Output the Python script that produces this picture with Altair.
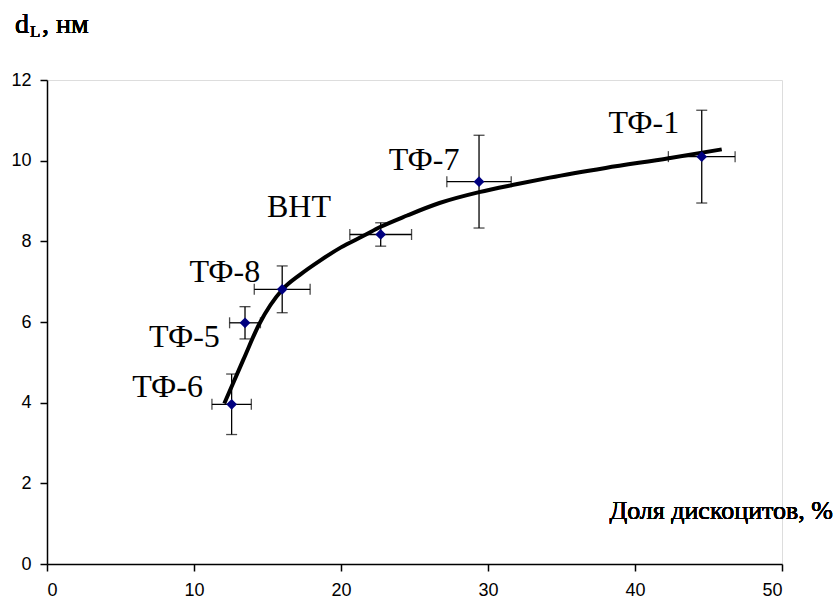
import altair as alt
import pandas as pd

# Data points
names = ["ТФ-6", "ТФ-5", "ТФ-8", "ВНТ", "ТФ-7", "ТФ-1"]
x_vals = [12.56, 13.47, 16.0, 22.7, 29.39, 44.54]
y_vals = [3.96, 5.98, 6.81, 8.17, 9.48, 10.10]
x_err = [1.34, 1.05, 1.90, 2.10, 2.19, 2.27]
y_err = [0.75, 0.40, 0.58, 0.29, 1.15, 1.15]

# Label anchor positions (data units)
label_x = [8.2, 9.35, 12.1, 17.14, 25.65, 40.6]
label_y = [4.15, 5.39, 7.0, 8.6, 9.77, 10.68]

# Trend curve
curve_x = [12.06, 13.35, 14.44, 16.0, 17.2, 18.6, 20.0, 21.5, 22.7, 24.5, 26.7, 29.4, 32.0, 34.2, 38.0, 42.3, 45.9]
curve_y = [3.98, 5.06, 5.95, 6.80, 7.17, 7.53, 7.85, 8.13, 8.36, 8.64, 8.95, 9.22, 9.42, 9.58, 9.82, 10.06, 10.28]

pts = pd.DataFrame({"name": names, "x": x_vals, "y": y_vals, "xe": x_err, "ye": y_err})
pts["xlo"] = pts["x"] - pts["xe"]
pts["xhi"] = pts["x"] + pts["xe"]
pts["ylo"] = pts["y"] - pts["ye"]
pts["yhi"] = pts["y"] + pts["ye"]
labels = pd.DataFrame({"name": names, "lx": label_x, "ly": label_y})
curve = pd.DataFrame({"cx": curve_x, "cy": curve_y})

SERIF = "Liberation Serif"
SANS = "Liberation Sans"

xscale = alt.Scale(domain=[0, 50], nice=False)
yscale = alt.Scale(domain=[0, 12], nice=False)

xaxis = alt.Axis(values=[0, 10, 20, 30, 40, 50], title=None, grid=False, domainColor="black",
                 tickColor="black", tickSize=7, labelFont=SANS, labelFontSize=18,
                 labelColor="black", labelPadding=10, domainWidth=1.5, tickWidth=1.5)
yaxis = alt.Axis(values=[0, 2, 4, 6, 8, 10, 12], title=None, grid=False, domainColor="black",
                 tickColor="black", tickSize=7, labelFont=SANS, labelFontSize=18,
                 labelColor="black", labelPadding=9, domainWidth=1.5, tickWidth=1.5)

base = alt.Chart(pts)

axes = base.mark_point(opacity=0).encode(
    x=alt.X("x:Q", scale=xscale, axis=xaxis),
    y=alt.Y("y:Q", scale=yscale, axis=yaxis),
)

line = alt.Chart(curve).mark_line(color="black", strokeWidth=4, interpolate="monotone").encode(
    x=alt.X("cx:Q", scale=xscale), y=alt.Y("cy:Q", scale=yscale))

vbar = base.mark_rule(color="black", strokeWidth=1.3).encode(
    x=alt.X("x:Q", scale=xscale), y=alt.Y("ylo:Q", scale=yscale), y2="yhi:Q")
hbar = base.mark_rule(color="black", strokeWidth=1.3).encode(
    y=alt.Y("y:Q", scale=yscale), x=alt.X("xlo:Q", scale=xscale), x2="xhi:Q")
vcap_lo = base.mark_tick(color="black", orient="horizontal", size=11, thickness=1.3).encode(
    x=alt.X("x:Q", scale=xscale), y=alt.Y("ylo:Q", scale=yscale))
vcap_hi = base.mark_tick(color="black", orient="horizontal", size=11, thickness=1.3).encode(
    x=alt.X("x:Q", scale=xscale), y=alt.Y("yhi:Q", scale=yscale))
hcap_lo = base.mark_tick(color="black", orient="vertical", size=11, thickness=1.3).encode(
    x=alt.X("xlo:Q", scale=xscale), y=alt.Y("y:Q", scale=yscale))
hcap_hi = base.mark_tick(color="black", orient="vertical", size=11, thickness=1.3).encode(
    x=alt.X("xhi:Q", scale=xscale), y=alt.Y("y:Q", scale=yscale))

markers = base.mark_point(shape="diamond", filled=True, color="#000080", size=115, opacity=1).encode(
    x=alt.X("x:Q", scale=xscale), y=alt.Y("y:Q", scale=yscale))

lbl = alt.Chart(labels).mark_text(font=SERIF, fontSize=32, fontWeight="normal", color="black",
                                  align="center", baseline="alphabetic").encode(
    x=alt.X("lx:Q", scale=xscale), y=alt.Y("ly:Q", scale=yscale), text="name:N")

t_d = base.mark_text(text="d", font=SERIF, fontSize=28, fontWeight="normal", color="black",
                     align="left", baseline="alphabetic").encode(x=alt.value(-32), y=alt.value(-47))
t_L = base.mark_text(text="L", font=SERIF, fontSize=17, fontWeight="normal", color="black",
                     align="left", baseline="alphabetic").encode(x=alt.value(-17), y=alt.value(-43))
t_nm = base.mark_text(text=", нм", font=SERIF, fontSize=28, fontWeight="normal", color="black",
                      align="left", baseline="alphabetic").encode(x=alt.value(-5), y=alt.value(-47))
t_x = base.mark_text(text="Доля дискоцитов, %", font=SERIF, fontSize=26, fontWeight="normal",
                     color="black", align="right", baseline="alphabetic").encode(
    x=alt.value(786), y=alt.value(439))

chart = alt.layer(axes, line, vbar, hbar, vcap_lo, vcap_hi, hcap_lo, hcap_hi, markers, lbl,
                  t_d, t_L, t_nm, t_x).properties(
    width=735, height=484,
    autosize=alt.AutoSizeParams(type="none"),
    padding={"left": 47, "top": 80, "right": 53, "bottom": 38},
).configure_view(stroke=None).configure(background="white")

chart.save("out.html", embed_options={"renderer": "svg", "actions": False})
